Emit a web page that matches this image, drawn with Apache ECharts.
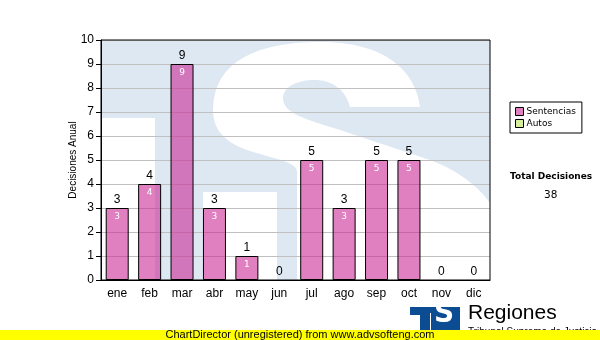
<!DOCTYPE html>
<html><head><meta charset="utf-8">
<script src="https://cdn.jsdelivr.net/npm/echarts@6/dist/echarts.min.js"></script>
<style>html,body{margin:0;padding:0;background:#fff}#c{width:600px;height:340px}</style>
</head><body><div id="c"></div>
<script>
const months = ['ene','feb','mar','abr','may','jun','jul','ago','sep','oct','nov','dic'];
const sentencias = [3,4,9,3,1,0,5,3,5,5,0,0];
const autos = [];
const yTicks = [0,1,2,3,4,5,6,7,8,9,10];
const total = sentencias.reduce((a,b)=>a+b,0);

const AR = '"Liberation Sans", Arial, sans-serif';
const chart = echarts.init(document.getElementById('c'), null, {renderer:'canvas'});
const L=101, T=40, R=490, B=280;
const barData = sentencias.map(v => v === 0 ? {value:v, itemStyle:{borderWidth:0}} : v);

// watermark "S" outline: segments of lines (L) and cubic curves (C)
const sSegs = [
  ['M',213,110],
  ['C',213,60,260,42,320,42],
  ['C',385,42,415,70,420,107],
  ['L',350,107],
  ['C',345,88,330,80,315,80],
  ['C',295,80,283,88,283,98],
  ['C',283,112,300,118,340,130],
  ['L',430,160],
  ['C',470,175,505,205,505,250],
  ['L',505,300],['L',297,300],['L',297,172],
  ['C',297,166,290,162,270,157],
  ['L',250,151],
  ['C',225,143,213,130,213,110]
];
function toPoints(segs){
  const pts=[]; let cx=0, cy=0;
  segs.forEach(s=>{
    if(s[0]==='M'||s[0]==='L'){cx=s[1];cy=s[2];pts.push([cx,cy]);}
    else{
      const [_,x1,y1,x2,y2,x3,y3]=s;
      for(let i=1;i<=16;i++){const t=i/16,u=1-t;
        pts.push([u*u*u*cx+3*u*u*t*x1+3*u*t*t*x2+t*t*t*x3, u*u*u*cy+3*u*u*t*y1+3*u*t*t*y2+t*t*t*y3]);}
      cx=x3;cy=y3;
    }
  });
  return pts;
}
chart.setOption({
  animation:false,
  textStyle:{fontFamily:AR},
  grid:{left:L, top:T, right:600-R, bottom:340-B, show:true, borderColor:'#000', borderWidth:1, backgroundColor:'transparent', z:1},
  graphic:[
    {type:'rect', z:-10, shape:{x:L,y:T,width:R-L,height:B-T}, style:{fill:'#dee8f2'}},
    {type:'rect', z:-9, shape:{x:L,y:118,width:54,height:B-118}, style:{fill:'#ffffff'}},
    {type:'rect', z:-9, shape:{x:203,y:192,width:74,height:B-192}, style:{fill:'#ffffff'}},
    {type:'polygon', z:-9, shape:{points:toPoints(sSegs)}, style:{fill:'#ffffff'}},
    {type:'rect', z:-8, shape:{x:0,y:B+1,width:600,height:60}, style:{fill:'#ffffff'}},
    {type:'rect', z:-8, shape:{x:R+1,y:0,width:120,height:340}, style:{fill:'#ffffff'}},
    {type:'rect', z:-8, shape:{x:0,y:0,width:600,height:T}, style:{fill:'#ffffff'}},
    {type:'text', left:510, top:172, style:{text:'Total Decisiones', fill:'#000', font:'bold 9px "DejaVu Sans"'}},
    {type:'text', left:544, top:190, style:{text:String(total), fill:'#000', font:'10.5px "DejaVu Sans"'}},
    {type:'rect', z:5, shape:{x:410,y:307,width:50,height:24}, style:{fill:'#0b4c92'}},
    {type:'rect', z:6, shape:{x:410,y:315,width:10,height:16}, style:{fill:'#ffffff'}},
    {type:'rect', z:6, shape:{x:430,y:313,width:1,height:18}, style:{fill:'#ffffff'}},
    {type:'text', z:7, left:434, top:301, style:{text:'S', fill:'#ffffff', font:'bold 28px "DejaVu Sans"'}},
    {type:'text', z:5, left:468, top:303, style:{text:'Regiones', fill:'#000', font:'21px "Liberation Sans"'}},
    {type:'text', z:5, left:468, top:327, style:{text:'Tribunal Supremo de Justicia', fill:'#000', font:'10px "Liberation Sans"'}},
    {type:'rect', z:10, shape:{x:0,y:330,width:600,height:10}, style:{fill:'#ffff00'}},
    {type:'text', z:11, left:'center', top:329, style:{text:'ChartDirector (unregistered) from www.advsofteng.com', fill:'#000', font:'11px "Liberation Sans"'}}
  ],
  legend:{
    orient:'vertical', left:510, top:102, data:['Sentencias','Autos'],
    icon:'rect', itemWidth:8, itemHeight:8, itemGap:3,
    borderColor:'#000', borderWidth:1, backgroundColor:'#fff', padding:[5,6,5,5],
    textStyle:{fontFamily:'DejaVu Sans', fontSize:9, color:'#000', padding:[0,0,0,-2]},
    itemStyle:{borderColor:'#000', borderWidth:1}
  },
  xAxis:{
    type:'category', data:months,
    axisLine:{lineStyle:{color:'#000'}},
    axisTick:{alignWithLabel:true, length:4, lineStyle:{color:'#000'}},
    axisLabel:{color:'#000', fontSize:12, margin:8, fontFamily:AR}
  },
  yAxis:{
    type:'value', min:yTicks[0], max:yTicks[yTicks.length-1], interval:1,
    name:'Decisiones Anual', nameLocation:'middle', nameGap:23, nameRotate:90, nameMoveOverlap:false,
    nameTextStyle:{color:'#000', fontSize:10, fontFamily:AR},
    axisLine:{show:true, lineStyle:{color:'#000'}},
    axisTick:{show:true, length:5, lineStyle:{color:'#000'}},
    axisLabel:{color:'#000', fontSize:12, margin:7, fontFamily:AR},
    splitLine:{lineStyle:{color:'#c0c0c0'}}
  },
  series:[
    {name:'Sentencias', type:'bar', data:barData, barWidth:23, z:3,
     itemStyle:{color:'rgba(202,36,146,0.58)', borderColor:'#000', borderWidth:1},
     label:{show:true, position:'top', color:'#000', fontSize:12, distance:2, fontFamily:AR}},
    {name:'_inner', type:'bar', data:sentencias, barWidth:23, barGap:'-100%', z:4,
     itemStyle:{color:'rgba(0,0,0,0)'}, tooltip:{show:false},
     label:{show:true, position:'insideTop', color:'#fff', fontSize:9, distance:4, fontFamily:'DejaVu Sans',
       formatter:p=>p.value>0?String(p.value):''}},
    {name:'Autos', type:'line', data:autos, itemStyle:{color:'#d6ef9c'}, lineStyle:{color:'#d6ef9c'}}
  ]
});
</script></body></html>
